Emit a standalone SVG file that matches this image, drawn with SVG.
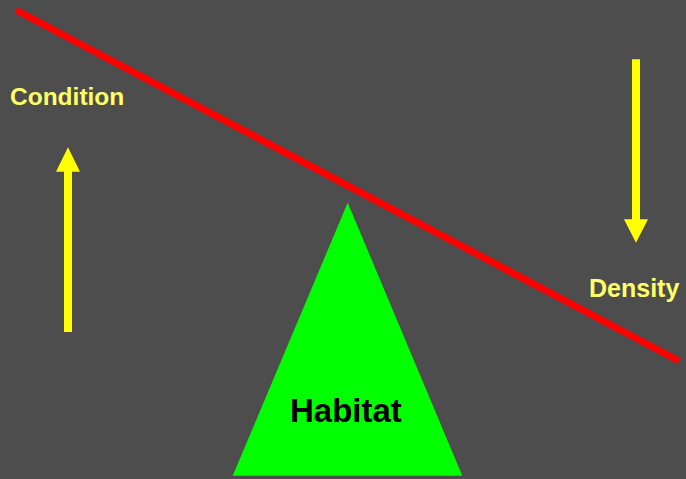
<svg xmlns="http://www.w3.org/2000/svg" width="686" height="479" viewBox="0 0 686 479">
<style>
.lbl{font-family:"Liberation Sans",Arial,sans-serif;font-weight:bold;fill:#FFFF66;}
.arrow{fill:#FFFF00;}
</style>
<rect x="0" y="0" width="686" height="479" fill="#4D4D4D"/>
<g id="habitat">
<polygon points="347.7,202.7 232.7,475.7 462.3,475.7" fill="#00FF00"/>
<text x="290" y="421.5" font-family="Liberation Sans, Arial, sans-serif" font-weight="bold" font-size="33" fill="#000000">Habitat</text>
</g>
<g id="condition">
<text class="lbl" x="10" y="105" font-size="24.5">Condition</text>
</g>
<g id="density">
<text class="lbl" x="589" y="296.5" font-size="25">Density</text>
</g>
<g id="connectors">
<line x1="16" y1="10" x2="679" y2="361" stroke="#FF0000" stroke-width="7"/>
<polygon class="arrow" points="64,332 72,332 72,171.7 80,171.7 68,147.3 56,171.7 64,171.7"/>
<polygon class="arrow" points="632,59.3 640,59.3 640,219.3 648,219.3 636,242.7 624,219.3 632,219.3"/>
</g>
</svg>
